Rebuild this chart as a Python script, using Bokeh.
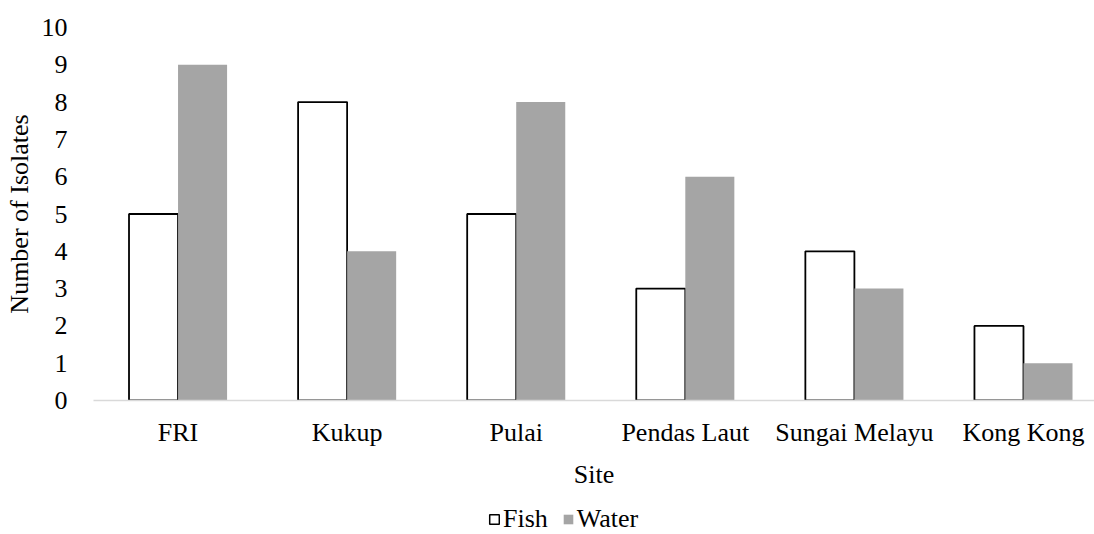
from bokeh.plotting import figure
from bokeh.models import Range1d, FixedTicker, Legend, LegendItem, ColumnDataSource
from bokeh.layouts import column
from bokeh.embed import file_html
from bokeh.resources import INLINE

sites = ["FRI", "Kukup", "Pulai", "Pendas Laut", "Sungai Melayu", "Kong Kong"]
fish = [5, 8, 5, 3, 4, 2]
water = [9, 4, 8, 6, 3, 1]
y_ticks = [0, 1, 2, 3, 4, 5, 6, 7, 8, 9, 10]
series_names = ["Fish", "Water"]

FONT = "Liberation Serif"
FS = "26px"
GRAY = "#a5a5a5"

idx = list(range(len(sites)))
src = ColumnDataSource(dict(
    x=idx,
    xf=[i - 0.145 for i in idx],
    xw=[i + 0.145 for i in idx],
    fish=fish,
    water=water,
))

p = figure(width=1094, height=491, output_backend="svg", toolbar_location=None,
           x_range=Range1d(-0.5, 5.42), y_range=Range1d(0, 10))
p.min_border_left = 93
p.min_border_top = 27
p.min_border_right = 0
p.min_border_bottom = 91
p.outline_line_color = None
p.xgrid.grid_line_color = None
p.ygrid.grid_line_color = None
p.background_fill_color = "white"
p.border_fill_color = "white"

p.vbar(x="xf", top="fish", width=0.29, source=src, fill_color="white",
       line_color="black", line_width=1.8)
p.vbar(x="xw", top="water", width=0.29, source=src, fill_color=GRAY,
       line_color=None)

xa = p.xaxis[0]
xa.ticker = FixedTicker(ticks=idx)
xa.major_label_overrides = {i: s for i, s in zip(idx, sites)}
xa.major_tick_line_color = None
xa.minor_tick_line_color = None
xa.axis_line_color = "#d9d9d9"
xa.axis_line_width = 1.5
xa.major_label_text_font = FONT
xa.major_label_text_font_size = FS
xa.major_label_text_color = "black"
xa.major_label_standoff = 11
xa.axis_label = "Site"
xa.axis_label_text_font = FONT
xa.axis_label_text_font_size = FS
xa.axis_label_text_font_style = "normal"
xa.axis_label_text_color = "black"
xa.axis_label_standoff = 10

ya = p.yaxis[0]
ya.ticker = FixedTicker(ticks=y_ticks)
ya.major_tick_line_color = None
ya.minor_tick_line_color = None
ya.axis_line_color = None
ya.major_label_text_font = FONT
ya.major_label_text_font_size = FS
ya.major_label_text_color = "black"
ya.major_label_standoff = 20
ya.axis_label = "Number of Isolates"
ya.axis_label_text_font = FONT
ya.axis_label_text_font_size = FS
ya.axis_label_text_font_style = "normal"
ya.axis_label_text_color = "black"
ya.axis_label_standoff = 5

# legend strip (its frame is aligned with the main frame by the column layout)
lg = figure(width=1094, height=43, output_backend="svg", toolbar_location=None,
            x_range=Range1d(0, 1), y_range=Range1d(0, 1),
            x_axis_location=None, y_axis_location=None)
lg.min_border = 0
lg.outline_line_color = None
lg.xgrid.grid_line_color = None
lg.ygrid.grid_line_color = None
nan = float("nan")
lf = lg.vbar(x=[nan], top=[nan], width=0.1, fill_color="white", line_color="black",
             line_width=1.5)
lw = lg.vbar(x=[nan], top=[nan], width=0.1, fill_color=GRAY, line_color=None)

legend = Legend(items=[LegendItem(label=series_names[0], renderers=[lf]),
                       LegendItem(label=series_names[1], renderers=[lw])],
                orientation="horizontal", location=(395, 0))
legend.label_text_font = FONT
legend.label_text_font_size = FS
legend.label_text_color = "black"
legend.glyph_width = 12
legend.glyph_height = 12
legend.label_standoff = 3
legend.spacing = 14
legend.padding = 0
legend.margin = 0
legend.border_line_color = None
legend.background_fill_alpha = 0
lg.add_layout(legend, "center")

layout = column(p, lg, spacing=0)
open("out.html", "w").write(file_html(layout, INLINE))
